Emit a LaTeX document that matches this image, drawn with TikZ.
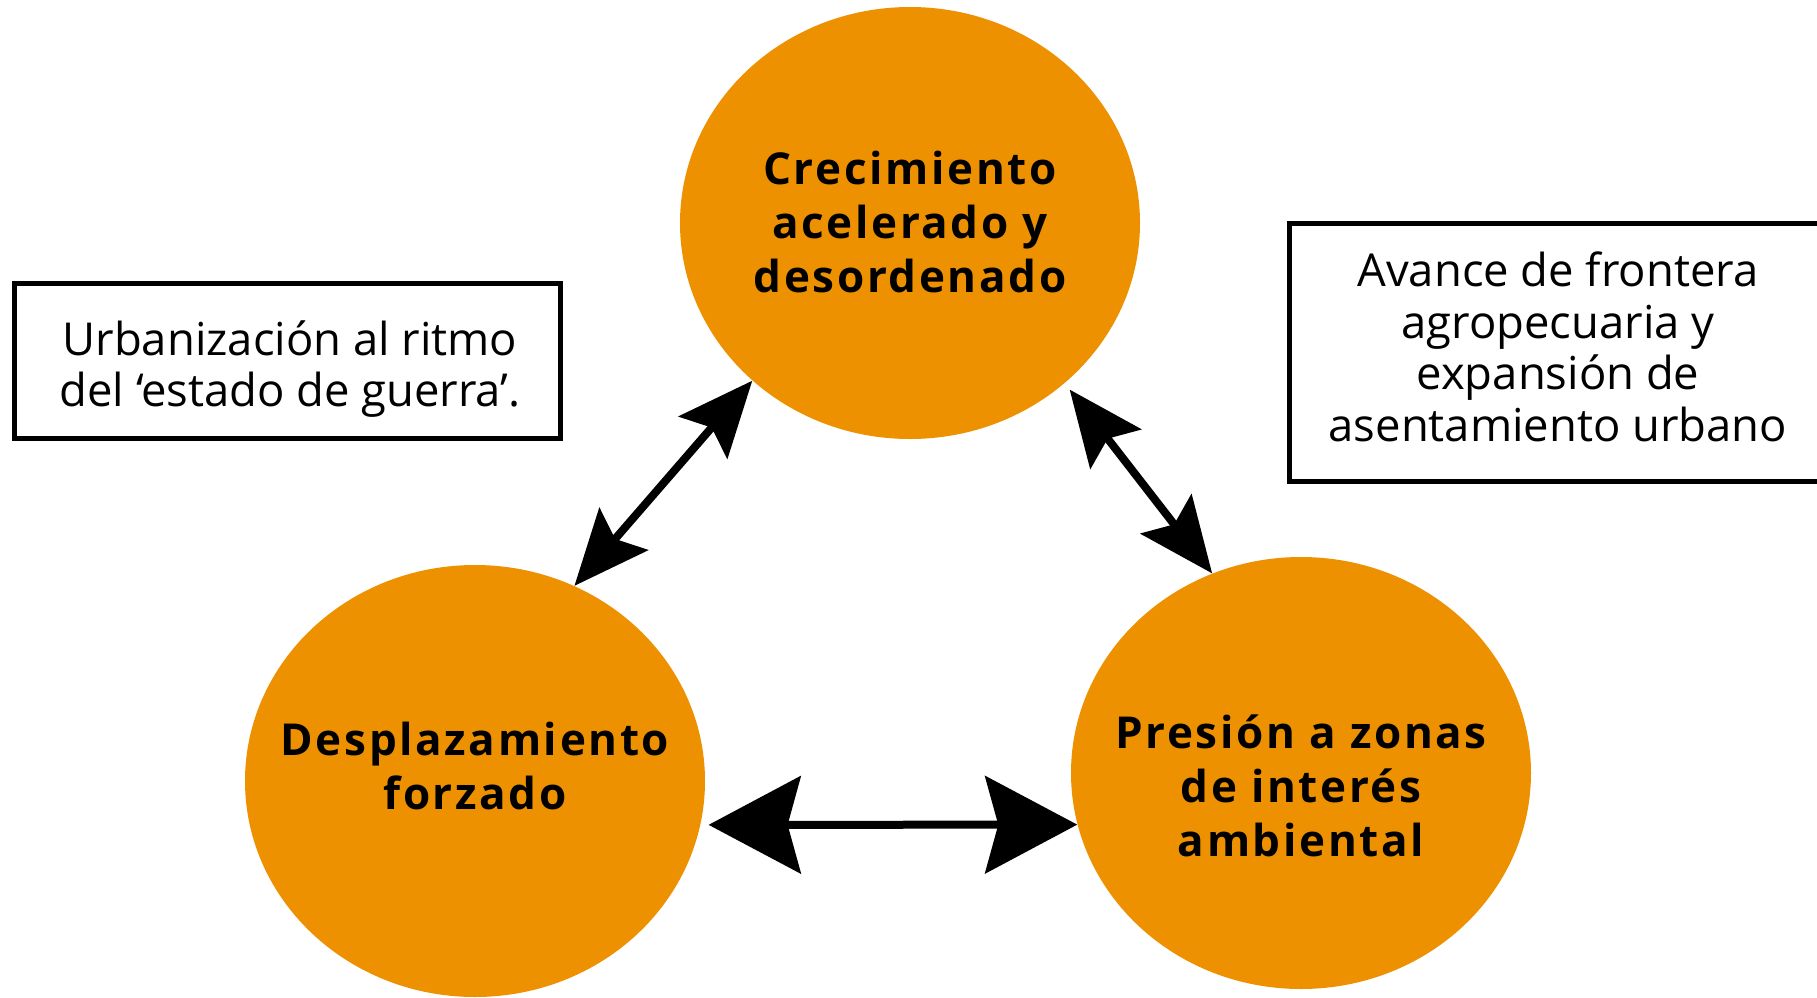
\documentclass[tikz,border=0pt]{standalone}
\usepackage{fontspec}
\setmainfont{Open Sans}
\newfontfamily\circfont{Open Sans}[LetterSpace=6]
\usetikzlibrary{arrows.meta,shapes.geometric}
\definecolor{orangeC}{RGB}{238,145,0}
\begin{document}
\begin{tikzpicture}[x=0.5pt,y=-0.5pt,
  circ/.style={ellipse,fill=orangeC,draw=none,minimum width=230pt,minimum height=216pt,inner sep=0pt},
  circtxt/.style={font=\circfont\bfseries\fontsize{22pt}{27pt}\selectfont,align=center,text=black,inner sep=0pt},
  boxtxt/.style={font=\fontsize{22.7pt}{25.75pt}\selectfont,align=center,text=black,inner sep=0pt},
  note/.style={draw=black,line width=2.5pt,inner sep=0pt,fill=white},
  twoway/.style={line width=4pt,{Stealth[length=37.5pt,width=32pt,inset=6.5pt]}-{Stealth[length=37.5pt,width=32pt,inset=6.5pt]}},
  bigway/.style={line width=4pt,{Stealth[length=46pt,width=48.5pt,inset=6.5pt]}-{Stealth[length=46pt,width=48.5pt,inset=6.5pt]}}
]
\useasboundingbox (0,0) rectangle (1817,997);
\fill[white] (0,0) rectangle (1817,997);

\node[circ] (top) at (910,223) {};
\node[circ] (left) at (475,781) {};
\node[circ] (right) at (1301,773) {};

\node[circtxt] (toptxt) at (910,222) {Crecimiento\\acelerado y\\desordenado};
\node[circtxt] (lefttxt) at (475,766) {Desplazamiento\\forzado};
\node[circtxt] (righttxt) at (1301,786) {Presión a zonas\\de interés\\ambiental};

\node[note,minimum width=273pt,minimum height=77.5pt] (urb) at (287,360.5) {};
\node[boxtxt] (urbtxt) at (290,369) {Urbanización al ritmo\\del ‘estado de guerra’.};

\node[note,minimum width=270.5pt,minimum height=129pt] (avance) at (1559.5,352) {};
\node[boxtxt] (avtxt) at (1558,347) {Avance de frontera\\agropecuaria y\\expansión de\\asentamiento urbano};

\draw[twoway] (left.63.9) -- (top.225.5);
\draw[twoway,shorten <=4pt] (top.314.5) -- (right.114.7);
\draw[bigway,shorten <=4pt] (left.-11.6) -- (right.193.6);
\end{tikzpicture}
\end{document}
